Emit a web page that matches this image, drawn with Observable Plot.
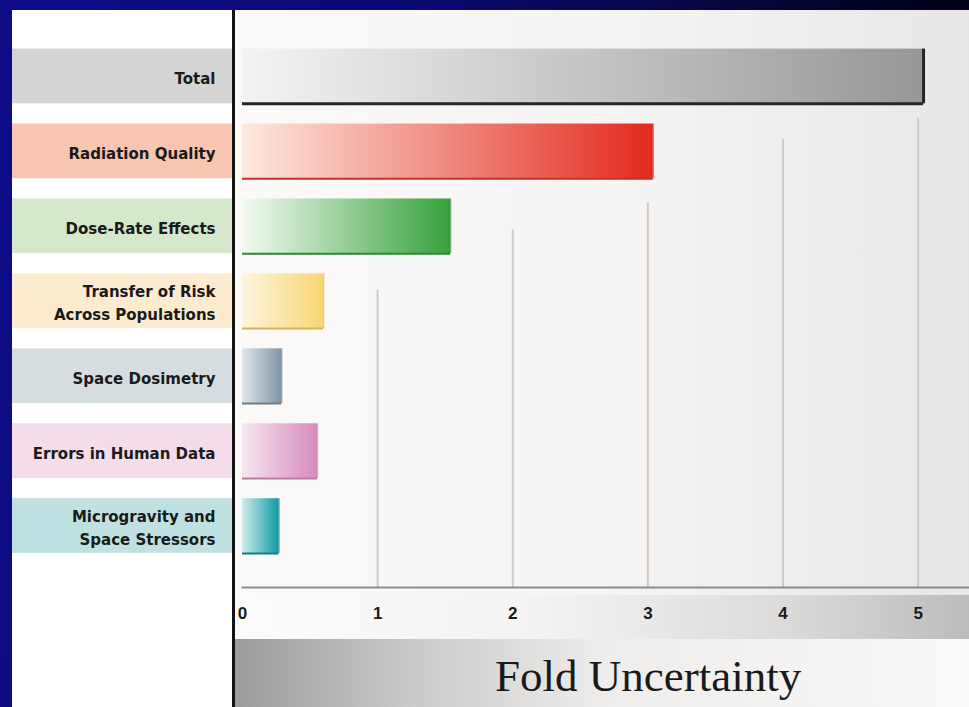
<!DOCTYPE html>
<html>
<head>
<meta charset="utf-8">
<script src="https://cdn.jsdelivr.net/npm/d3@7"></script>
<script src="https://cdn.jsdelivr.net/npm/@observablehq/plot@0.6"></script>
<style>
html,body{margin:0;padding:0;}
body{width:969px;height:707px;overflow:hidden;position:relative;
  background:linear-gradient(100deg,#0c0c88 0%,#0a0a72 40%,#04042e 75%,#000006 100%);}
#panel{position:absolute;left:12px;top:10px;width:957px;height:697px;background:#ffffff;}
#chartbg{position:absolute;left:234px;top:10px;width:735px;height:585px;
  background:linear-gradient(to right,#fcfaf8 0%,#f6f4f2 55%,#e9e7e6 100%);}
#tickstrip{position:absolute;left:234px;top:595px;width:735px;height:44px;
  background:linear-gradient(to right,#fdfbf9 0%,#f6f4f2 40%,#dcdbda 75%,#bcbcbc 100%);}
#banner{position:absolute;left:234px;top:639px;width:735px;height:68px;
  background:linear-gradient(to right,#9c9c9c 0%,#cbcbcb 25%,#eeedeb 50%,#fbf9f7 100%);}
#banner span{position:absolute;left:261px;top:15px;line-height:1;white-space:nowrap;
  font-family:"Liberation Serif","Times New Roman",serif;font-size:45px;color:#1a1a1a;}
#vline{position:absolute;left:232px;top:10px;width:2.5px;height:697px;background:#141414;}
#labels{position:absolute;left:12px;top:10px;}
#chart{position:absolute;left:234px;top:10px;}
svg{background:transparent !important;}
</style>
</head>
<body>
<div id="panel"></div>
<div id="chartbg"></div>
<div id="tickstrip"></div>
<div id="banner"><span>Fold Uncertainty</span></div>
<div id="labels"></div>
<div id="chart"></div>
<div id="vline"></div>
<script>
// ---- data ----
const categories = [
  "Total",
  "Radiation Quality",
  "Dose-Rate Effects",
  "Transfer of Risk\nAcross Populations",
  "Space Dosimetry",
  "Errors in Human Data",
  "Microgravity and\nSpace Stressors"
];
const values = [5.04, 3.04, 1.54, 0.60, 0.29, 0.555, 0.27];
const xTicks = [0, 1, 2, 3, 4, 5];
// row index (0 = top row) at which each vertical guide line for ticks 1..5 begins
const gridStart = [2.85, 2.05, 1.69, 0.84, 0.56];

// ---- styles ----
const labelFills = ["#d4d4d4", "#f8c5b1", "#d5e8cb", "#fdebd0", "#d6dde1", "#f5dcea", "#bfe1e1"];
const barLight  = ["#f6f4f2", "#fde9df", "#f4faf2", "#fdf5de", "#dfe7ec", "#f7e6f0", "#d2ecec"];
const barDark   = ["#979797", "#e3291f", "#36a23c", "#f7d673", "#8295a3", "#d68cbb", "#109ca5"];
const barEdge   = ["#262626", "#c4312a", "#2d8833", "#d6b25c", "#6c7c88", "#b97ba2", "#0e7d85"];

const rows = categories.map((name, i) => ({i, name, value: values[i]}));
const half = 0.365;
const yDomain = [-0.88, 6.82];
const plotHeight = 630, plotBottom = 53;

// ---- label column ----
const labelsPlot = Plot.plot({
  width: 220, height: plotHeight, marginTop: 0, marginLeft: 0, marginRight: 0, marginBottom: plotBottom,
  x: {domain: [0, 1], axis: null},
  y: {domain: yDomain, reverse: true, axis: null},
  color: {type: "identity"},
  marks: [
    Plot.rect(rows, {x1: 0, x2: 1, y1: d => d.i - half, y2: d => d.i + half, fill: d => labelFills[d.i]}),
    Plot.text(rows, {
      x: 1, y: "i", text: "name", textAnchor: "end", dx: -17,
      fontFamily: "DejaVu Sans", fontWeight: "bold", fontSize: 15, lineHeight: 1.55, fill: "#1a1a1a"
    })
  ]
});
document.getElementById("labels").appendChild(labelsPlot);

// ---- bar chart ----
const hasAxisMark = typeof Plot.axisX === "function";
const chartMarks = [
  Plot.ruleX(xTicks.slice(1), {x: d => d, y1: (d, i) => gridStart[i], y2: yDomain[1], stroke: "#cdcbca", strokeWidth: 2}),
  Plot.frame({anchor: "bottom", stroke: "#8c8c8c", strokeWidth: 2}),
  Plot.rect(rows, {x1: 0, x2: "value", y1: d => d.i - half, y2: d => d.i + half, fill: d => `url(#bar${d.i})`}),
  Plot.ruleY(rows, {y: d => d.i + half, x1: 0, x2: "value", stroke: d => barEdge[d.i], strokeWidth: d => d.i === 0 ? 3 : 2}),
  Plot.ruleX(rows, {x: "value", y1: d => d.i - half, y2: d => d.i + half, stroke: d => barEdge[d.i], strokeWidth: d => d.i === 0 ? 3 : 1.5, strokeOpacity: d => d.i === 0 ? 1 : 0.6})
];
if (hasAxisMark) {
  chartMarks.push(Plot.axisX({
    ticks: xTicks, tickSize: 0, tickPadding: 19, label: null, tickFormat: d => String(d),
    fontSize: 17, fontWeight: "bold", fontFamily: "Liberation Sans, Arial, sans-serif", fill: "#1a1a1a"
  }));
}
const chart = Plot.plot({
  width: 735, height: plotHeight,
  marginTop: 0, marginLeft: 8, marginRight: 0, marginBottom: plotBottom,
  style: {fontFamily: "Liberation Sans, Arial, sans-serif", fontSize: "17px", fontWeight: "bold", color: "#1a1a1a"},
  x: hasAxisMark
    ? {domain: [0, 5.38]}
    : {domain: [0, 5.38], ticks: xTicks, tickSize: 0, tickPadding: 19, label: null, tickFormat: d => String(d)},
  y: {domain: yDomain, reverse: true, axis: null},
  color: {type: "identity"},
  marks: chartMarks
});

// gradients for the bars
const NS = "http://www.w3.org/2000/svg";
const defs = document.createElementNS(NS, "defs");
rows.forEach(d => {
  const g = document.createElementNS(NS, "linearGradient");
  g.setAttribute("id", `bar${d.i}`);
  g.setAttribute("x1", "0"); g.setAttribute("x2", "1");
  g.setAttribute("y1", "0"); g.setAttribute("y2", "0");
  [[0, barLight[d.i]], [1, barDark[d.i]]].forEach(([o, c]) => {
    const s = document.createElementNS(NS, "stop");
    s.setAttribute("offset", o);
    s.setAttribute("stop-color", c);
    g.appendChild(s);
  });
  defs.appendChild(g);
});
chart.insertBefore(defs, chart.firstChild);
document.getElementById("chart").appendChild(chart);
</script>
</body>
</html>
